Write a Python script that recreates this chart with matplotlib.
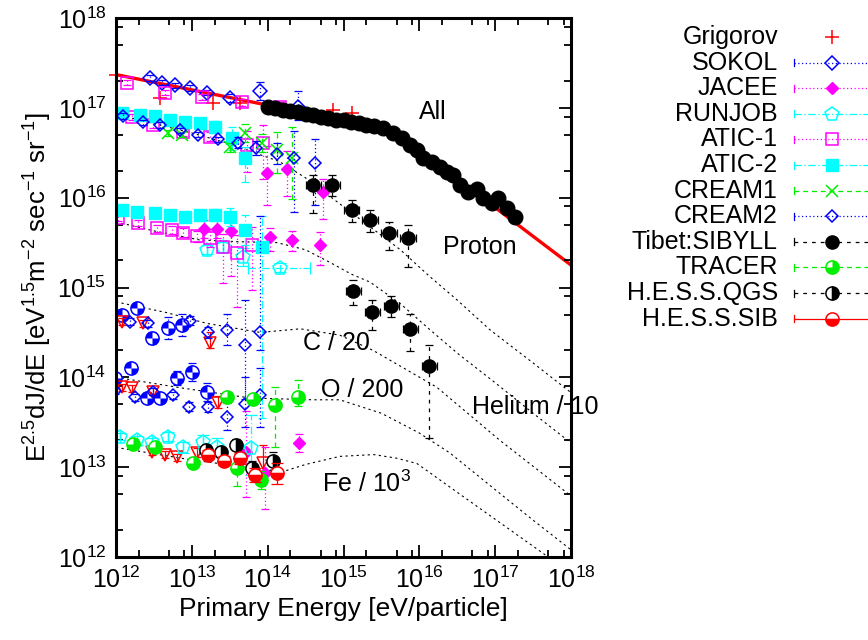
import numpy as np
import matplotlib
matplotlib.use("Agg")
import matplotlib.pyplot as plt
from matplotlib.path import Path
from matplotlib.ticker import LogLocator, NullFormatter

plt.rcParams["font.family"] = ["Liberation Sans", "DejaVu Sans"]
plt.rcParams["mathtext.fontset"] = "custom"
plt.rcParams["mathtext.rm"] = "Liberation Sans"
plt.rcParams["mathtext.it"] = "Liberation Sans:italic"
plt.rcParams["mathtext.bf"] = "Liberation Sans:bold"

# ---- data (log10 E [eV], log10 E^2.5 dJ/dE), errors in decades ----

# all-particle fit (red) and model curves (black dotted)
all_fit_le = [12.0, 13.0, 14.0, 14.5, 15.0, 15.5, 15.8, 16.0, 16.5, 17.0, 17.5, 18.0]
all_fit_lf = [17.37, 17.20, 17.03, 16.95, 16.86, 16.76, 16.64, 16.52, 16.20, 15.89, 15.57, 15.25]

proton_le = [12.0, 13.0, 13.5, 14.16, 14.5, 15.0, 15.5, 15.75, 16.14, 16.5, 16.93, 17.5, 18.0]
proton_lf = [16.93, 16.72, 16.60, 16.40, 16.22, 15.90, 15.58, 15.42, 15.12, 14.86, 14.53, 14.16, 13.83]
helium_le = [12.0, 12.5, 13.1, 13.6, 14.12, 14.5, 14.82, 15.1, 15.35, 15.75, 16.14, 16.5, 17.0, 17.5, 18.0]
helium_lf = [15.73, 15.63, 15.53, 15.51, 15.50, 15.42, 15.28, 15.15, 15.06, 14.82, 14.53, 14.27, 13.94, 13.60, 13.27]
carbon_le = [12.0, 12.67, 13.2, 13.9, 14.43, 14.95, 15.39, 16.23, 17.06, 18.0]
carbon_lf = [14.84, 14.72, 14.60, 14.50, 14.54, 14.47, 14.30, 13.89, 13.30, 12.68]
oxygen_le = [12.0, 12.88, 13.77, 14.6, 14.95, 15.5, 16.0, 16.4, 17.0, 17.5, 18.0]
oxygen_lf = [14.00, 13.88, 13.77, 13.75, 13.75, 13.60, 13.38, 13.16, 12.75, 12.41, 12.08]
iron_le = [12.0, 13.0, 14.0, 14.2, 14.5, 14.95, 15.4, 15.7, 15.97, 16.5, 17.0, 17.5, 18.0]
iron_lf = [13.22, 13.08, 12.97, 12.95, 13.03, 13.12, 13.14, 13.10, 13.04, 12.72, 12.42, 12.12, 11.82]

grig_le = [12.0, 12.58, 13.28, 13.64, 14.86, 15.11]
grig_lf = [17.37, 17.11, 17.05, 17.05, 16.98, 16.94]

sokol_le = [12.45, 12.61, 12.78, 12.98, 13.20, 13.50, 13.90, 14.40]
sokol_lf = [17.33, 17.28, 17.25, 17.22, 17.17, 17.11, 17.19, 17.01]
sokol_lo = [0.03, 0.03, 0.03, 0.03, 0.03, 0.04, 0.10, 0.15]
sokol_hi = [0.03, 0.03, 0.03, 0.03, 0.03, 0.04, 0.10, 0.18]

# proton, helium, iron groups
jacee_le = [13.99, 14.26, 14.73, 13.16, 13.33, 13.52, 14.03, 14.32, 14.69, 13.71, 13.96, 14.41]
jacee_lf = [16.27, 16.32, 16.06, 15.65, 15.65, 15.63, 15.56, 15.53, 15.47, 13.17, 12.93, 13.27]
jacee_lo = [0.35, 0.30, 0.30, 0.10, 0.10, 0.50, 0.15, 0.12, 0.22, 0.50, 0.40, 0.10]
jacee_hi = [0.30, 0.20, 0.15, 0.10, 0.10, 0.20, 0.10, 0.10, 0.15, 0.45, 0.30, 0.10]

# helium, iron groups
runjob_le = [13.20, 13.41, 13.67, 14.16, 12.05, 12.28, 12.47, 12.69, 12.88, 13.15, 13.33, 13.78]
runjob_lf = [15.42, 15.45, 15.34, 15.22, 13.34, 13.30, 13.28, 13.34, 13.22, 13.28, 13.22, 13.21]
runjob_lo = [0.05, 0.06, 0.10, 0.05, 0.04, 0.05, 0.05, 0.05, 0.06, 0.08, 0.10, 0.30]
runjob_hi = [0.05, 0.06, 0.10, 0.05, 0.04, 0.05, 0.05, 0.05, 0.06, 0.08, 0.10, 0.37]
runjob_xlo = [0, 0, 0, 0.42, 0, 0, 0, 0, 0, 0, 0, 0]
runjob_xhi = [0, 0, 0, 0.40, 0, 0, 0, 0, 0, 0, 0, 0]

# all-particle, proton, helium groups
atic1_le = [12.15, 12.65, 13.13, 13.66, 14.16,
            12.21, 12.49, 12.88, 13.24, 13.73, 13.94,
            12.03, 12.29, 12.54, 12.74, 12.88, 13.07, 13.24, 13.41, 13.60, 13.79]
atic1_lf = [17.28, 17.17, 17.12, 17.06, 17.01,
            16.90, 16.81, 16.73, 16.68, 16.59, 16.61,
            15.77, 15.72, 15.66, 15.64, 15.61, 15.57, 15.55, 15.45, 15.38, 15.47]
atic1_lo = [0.03, 0.03, 0.03, 0.04, 0.05,
            0.03, 0.03, 0.04, 0.05, 0.30, 0.40,
            0.03, 0.03, 0.04, 0.04, 0.05, 0.06, 0.10, 0.40, 0.60, 0.50]
atic1_hi = [0.03, 0.03, 0.03, 0.04, 0.05,
            0.03, 0.03, 0.04, 0.05, 0.15, 0.20,
            0.03, 0.03, 0.04, 0.04, 0.05, 0.06, 0.10, 0.15, 0.20, 0.20]

# proton, helium groups
atic2_le = [12.08, 12.32, 12.51, 12.71, 12.91, 13.11, 13.31, 13.53, 13.70,
            12.08, 12.28, 12.51, 12.71, 12.91, 13.11, 13.31, 13.50, 13.70, 13.93]
atic2_lf = [16.94, 16.92, 16.91, 16.86, 16.84, 16.83, 16.79, 16.66, 16.44,
            15.86, 15.84, 15.83, 15.81, 15.78, 15.81, 15.81, 15.78, 15.64, 15.45]
atic2_lo = [0.02, 0.02, 0.02, 0.03, 0.03, 0.04, 0.06, 0.13, 0.27,
            0.02, 0.02, 0.02, 0.03, 0.03, 0.04, 0.06, 0.10, 0.17, 1.90]
atic2_hi = [0.02, 0.02, 0.02, 0.03, 0.03, 0.04, 0.06, 0.13, 0.12,
            0.02, 0.02, 0.02, 0.03, 0.03, 0.04, 0.06, 0.10, 0.17, 0.35]

cream1_le = [12.69, 12.87, 13.50, 13.70, 13.93, 14.12, 14.32]
cream1_lf = [16.72, 16.70, 16.56, 16.72, 16.61, 16.53, 16.44]
cream1_lo = [0.03, 0.03, 0.05, 0.10, 0.10, 0.25, 0.45]
cream1_hi = [0.03, 0.03, 0.05, 0.10, 0.10, 0.20, 0.35]

# proton, carbon, oxygen groups
cream2_le = [12.09, 12.36, 12.58, 12.84, 13.08, 13.35, 13.61, 13.85, 14.12, 14.35, 14.62,
             12.18, 12.42, 12.98, 13.21, 13.46, 13.70, 13.90,
             11.99, 12.25, 12.49, 12.75, 12.96, 13.21, 13.46, 13.70, 13.90]
cream2_lf = [16.91, 16.84, 16.81, 16.75, 16.70, 16.65, 16.61, 16.55, 16.49, 16.44, 16.39,
             14.62, 14.60, 14.63, 14.50, 14.53, 14.36, 14.50,
             13.85, 13.78, 13.84, 13.80, 13.67, 13.67, 13.56, 13.70, 13.80]
cream2_lo = [0.03, 0.03, 0.03, 0.03, 0.03, 0.03, 0.06, 0.08, 0.12, 0.60, 0.47,
             0.04, 0.04, 0.05, 0.06, 0.17, 0.60, 0.20,
             0.04, 0.04, 0.04, 0.04, 0.05, 0.06, 0.15, 0.25, 0.35]
cream2_hi = [0.03, 0.03, 0.03, 0.03, 0.03, 0.03, 0.06, 0.08, 0.12, 0.30, 0.26,
             0.04, 0.04, 0.05, 0.06, 0.17, 0.50, 1.30,
             0.04, 0.04, 0.04, 0.04, 0.05, 0.06, 0.15, 0.30, 0.30]

tibet_all_le = [14.0, 14.1, 14.2, 14.3, 14.4, 14.5, 14.6, 14.7, 14.8, 14.9, 15.0, 15.1, 15.2,
                15.3, 15.4, 15.52, 15.65, 15.77, 15.88, 15.97, 16.05, 16.17, 16.27, 16.36,
                16.44, 16.54, 16.64, 16.76, 16.84, 16.96, 17.04, 17.16, 17.26]
tibet_all_lf = [17.01, 17.00, 16.98, 16.96, 16.95, 16.93, 16.92, 16.90, 16.89, 16.87, 16.86,
                16.84, 16.83, 16.81, 16.80, 16.78, 16.72, 16.66, 16.59, 16.53, 16.44, 16.40,
                16.34, 16.29, 16.25, 16.14, 16.06, 16.10, 16.00, 15.94, 16.00, 15.88, 15.78]
tibet_p_le = [14.60, 14.85, 15.11, 15.35, 15.60, 15.85]
tibet_p_lf = [16.14, 16.14, 15.86, 15.75, 15.61, 15.55]
tibet_p_lo = [0.31, 0.12, 0.13, 0.13, 0.19, 0.32]
tibet_p_hi = [0.11, 0.11, 0.11, 0.11, 0.12, 0.15]
tibet_he_le = [15.13, 15.38, 15.63, 15.88, 16.13]
tibet_he_lf = [14.96, 14.73, 14.79, 14.54, 14.13]
tibet_he_lo = [0.15, 0.20, 0.12, 0.25, 0.80]
tibet_he_hi = [0.12, 0.13, 0.12, 0.16, 0.23]

# oxygen, iron groups
tracer_le = [13.46, 13.81, 14.10, 14.40, 12.22, 12.51, 13.02, 13.60, 13.91]
tracer_lf = [13.78, 13.76, 13.69, 13.78, 13.26, 13.22, 13.05, 12.99, 12.86]
tracer_lo = [0.05, 0.05, 0.47, 0.10, 0.04, 0.04, 0.06, 0.20, 0.10]
tracer_hi = [0.05, 0.05, 0.20, 0.19, 0.04, 0.04, 0.06, 0.20, 0.10]

hess_qgs_le = [13.19, 13.38, 13.58, 13.79, 14.07]
hess_qgs_lf = [13.19, 13.17, 13.25, 12.99, 13.07]
hess_qgs_err = [0.05, 0.05, 0.06, 0.08, 0.10]
hess_sib_le = [13.21, 13.42, 13.64, 13.83, 14.12]
hess_sib_lf = [13.14, 13.07, 13.10, 12.91, 12.93]
hess_sib_err = [0.05, 0.05, 0.06, 0.08, 0.12]

# unlabelled series: red triangles (C, O, Fe) and blue quartered circles (C, O)
tri_le = [12.08, 12.36, 13.24, 12.08, 12.21, 12.49, 13.35, 12.47, 12.65, 12.80, 13.07, 13.94]
tri_lf = [14.62, 14.60, 14.38, 13.89, 13.88, 13.84, 13.71, 13.17, 13.14, 13.11, 13.16, 13.05]
tri_lo = [0.04, 0.04, 0.05, 0.04, 0.04, 0.04, 0.05, 0.04, 0.04, 0.04, 0.05, 0.15]
tri_hi = [0.04, 0.04, 0.12, 0.04, 0.04, 0.04, 0.08, 0.04, 0.04, 0.04, 0.05, 0.20]
quad_le = [12.08, 12.28, 12.47, 12.69, 12.87, 11.99, 12.20, 12.41, 12.58, 12.80, 13.00, 13.20]
quad_lf = [14.69, 14.77, 14.44, 14.55, 14.58, 13.99, 14.10, 13.77, 13.77, 13.99, 14.06, 13.84]
quad_err = [0.05, 0.05, 0.07, 0.12, 0.12, 0.04, 0.05, 0.06, 0.06, 0.08, 0.10, 0.10]

legend_labels = ["Grigorov", "SOKOL", "JACEE", "RUNJOB", "ATIC-1", "ATIC-2", "CREAM1",
                 "CREAM2", "Tibet:SIBYLL", "TRACER", "H.E.S.S.QGS", "H.E.S.S.SIB"]

# ---- styles ----
RED, BLUE, MAG, CYAN, GREEN, BLACK = "#ff0000", "#0000ff", "#ff00ff", "#00ffff", "#00ee00", "#000000"
DOT = (0, (1, 2))
DASH = (0, (4, 3))
DASHDOT = (0, (6, 2, 1, 2))
SPARSE = (0, (3, 4))

QUAD_TR_BL = Path.make_compound_path(Path.wedge(0, 90), Path.wedge(180, 270))
QUAD_TL = Path.wedge(90, 180)


def marks(ax, x, y, kind, color, ms, **kw):
    if kind == "plus":
        ax.plot(x, y, ls="none", marker="+", ms=ms, mew=1.1, color=color, **kw)
    elif kind == "x":
        ax.plot(x, y, ls="none", marker="x", ms=ms, mew=1.1, color=color, **kw)
    elif kind.startswith("open:"):
        ax.plot(x, y, ls="none", marker=kind[5:], ms=ms, mfc="none", mec=color, mew=1.1, **kw)
    elif kind.startswith("fill:"):
        ax.plot(x, y, ls="none", marker=kind[5:], ms=ms, mfc=color, mec=color, mew=1.0, **kw)
    elif kind in ("quad", "tracer"):
        hole = QUAD_TR_BL if kind == "quad" else QUAD_TL
        ax.plot(x, y, ls="none", marker="o", ms=ms, mfc=color, mec="none", **kw)
        ax.plot(x, y, ls="none", marker=hole, ms=ms, mfc="white", mec="none", **kw)
        ax.plot(x, y, ls="none", marker="o", ms=ms, mfc="none", mec=color, mew=1.1, **kw)
    elif kind == "qgs":
        ax.plot(x, y, ls="none", marker="o", ms=ms, fillstyle="right", mfc=color,
                mfcalt="white", mec=color, mew=1.1, **kw)
    elif kind == "sib":
        ax.plot(x, y, ls="none", marker="o", ms=ms, fillstyle="bottom", mfc=color,
                mfcalt="white", mec=color, mew=1.1, **kw)


def series(ax, le, lf, lo, hi, color, ls, kind, ms, xlo=None, xhi=None, cap=3):
    le = np.asarray(le)
    lf = np.asarray(lf)
    x = 10.0 ** le
    y = 10.0 ** lf
    yerr = [y - 10.0 ** (lf - np.asarray(lo)), 10.0 ** (lf + np.asarray(hi)) - y]
    xerr = None
    if xlo is not None:
        xerr = [x - 10.0 ** (le - np.asarray(xlo)), 10.0 ** (le + np.asarray(xhi)) - x]
    eb = ax.errorbar(x, y, yerr=yerr, xerr=xerr, fmt="none", ecolor=color,
                     elinewidth=0.9, capsize=cap, capthick=0.9)
    for lc in eb.lines[2]:
        lc.set_linestyle(ls)
    marks(ax, x, y, kind, color, ms)


W, H = 868, 640
fig = plt.figure(figsize=(W / 100, H / 100), dpi=100)
ax = fig.add_axes([116 / W, 1 - 557 / H, 455 / W, 539 / H])
ax.set_xscale("log")
ax.set_yscale("log")
ax.set_xlim(1e12, 1e18)
ax.set_ylim(1e12, 1e18)

# model curves
for le, lf in [(proton_le, proton_lf), (helium_le, helium_lf), (carbon_le, carbon_lf),
               (oxygen_le, oxygen_lf), (iron_le, iron_lf)]:
    ax.plot(10.0 ** np.array(le), 10.0 ** np.array(lf), color=BLACK, lw=0.8,
            ls=(0, (2, 3)), zorder=1)
ax.plot(10.0 ** np.array(all_fit_le), 10.0 ** np.array(all_fit_lf), color=RED, lw=2.4, zorder=1.5)

# unlabelled points
series(ax, quad_le, quad_lf, quad_err, quad_err, BLUE, DOT, "quad", 9.5)
series(ax, tri_le, tri_lf, tri_lo, tri_hi, RED, "-", "open:v", 8.5)

# labelled points
marks(ax, 10.0 ** np.array(grig_le), 10.0 ** np.array(grig_lf), "plus", RED, 10, clip_on=False)
series(ax, sokol_le, sokol_lf, sokol_lo, sokol_hi, BLUE, DOT, "open:D", 7)
series(ax, jacee_le, jacee_lf, jacee_lo, jacee_hi, MAG, DOT, "fill:D", 6)
series(ax, runjob_le, runjob_lf, runjob_lo, runjob_hi, CYAN, DASHDOT, "open:p", 10,
       xlo=runjob_xlo, xhi=runjob_xhi, cap=4)
series(ax, atic1_le, atic1_lf, atic1_lo, atic1_hi, MAG, DOT, "open:s", 8.5)
series(ax, atic2_le, atic2_lf, atic2_lo, atic2_hi, CYAN, DASHDOT, "fill:s", 8.5)
series(ax, cream1_le, cream1_lf, cream1_lo, cream1_hi, GREEN, DASH, "x", 8)
series(ax, cream2_le, cream2_lf, cream2_lo, cream2_hi, BLUE, DOT, "open:D", 6.3)
tib_e = [0.02] * len(tibet_all_le)
series(ax, tibet_all_le, tibet_all_lf, tib_e, tib_e, BLACK, SPARSE, "fill:o", 10.5)
series(ax, tibet_p_le, tibet_p_lf, tibet_p_lo, tibet_p_hi, BLACK, SPARSE, "fill:o", 9.5,
       xlo=[0.1] * 6, xhi=[0.1] * 6)
series(ax, tibet_he_le, tibet_he_lf, tibet_he_lo, tibet_he_hi, BLACK, SPARSE, "fill:o", 9.5,
       xlo=[0.1] * 5, xhi=[0.1] * 5)
series(ax, tracer_le, tracer_lf, tracer_lo, tracer_hi, GREEN, DASH, "tracer", 9.5)
series(ax, hess_qgs_le, hess_qgs_lf, hess_qgs_err, hess_qgs_err, BLACK, SPARSE, "qgs", 9.5)
series(ax, hess_sib_le, hess_sib_lf, hess_sib_err, hess_sib_err, RED, "-", "sib", 9.5, cap=4)

# curve labels
ax.text(10 ** 16.18, 10 ** 16.95, "All", fontsize=18, ha="center", va="center")
ax.text(10 ** 16.80, 10 ** 15.45, "Proton", fontsize=18, ha="center", va="center")
ax.text(10 ** 16.69, 10 ** 13.67, "Helium / 10", fontsize=18, ha="left", va="center", clip_on=False)
ax.text(10 ** 14.91, 10 ** 14.38, "C / 20", fontsize=18, ha="center", va="center")
ax.text(10 ** 15.24, 10 ** 13.86, "O / 200", fontsize=18, ha="center", va="center")
ax.text(10 ** 15.30, 10 ** 12.82, "Fe / 10$^3$", fontsize=18, ha="center", va="center")

# axes styling (gnuplot look)
for s in ax.spines.values():
    s.set_linewidth(2.2)
ax.xaxis.set_major_locator(LogLocator(base=10, numticks=10))
ax.yaxis.set_major_locator(LogLocator(base=10, numticks=10))
ax.xaxis.set_minor_locator(LogLocator(base=10, subs=(2, 5, 8), numticks=20))
ax.yaxis.set_minor_locator(LogLocator(base=10, subs=(2, 5, 8), numticks=20))
ax.xaxis.set_minor_formatter(NullFormatter())
ax.yaxis.set_minor_formatter(NullFormatter())
ax.tick_params(which="both", direction="in", top=True, right=True, width=1.3, labelsize=18)
ax.tick_params(which="major", length=9, pad=7)
ax.tick_params(which="minor", length=5)
ax.set_xlabel("Primary Energy [eV/particle]", fontsize=19, labelpad=3)
ax.set_ylabel("E$^{2.5}$dJ/dE [eV$^{1.5}$m$^{-2}$ sec$^{-1}$ sr$^{-1}$]", fontsize=18.5, labelpad=2)

# legend drawn by hand, samples run off the right edge like the original
lax = fig.add_axes([0, 0, 1, 1])
lax.set_xlim(0, W)
lax.set_ylim(H, 0)
lax.set_xticks([])
lax.set_yticks([])
lax.axis("off")
legend_style = [
    (RED, None, "plus", 10), (BLUE, DOT, "open:D", 7), (MAG, DOT, "fill:D", 6),
    (CYAN, DASHDOT, "open:p", 10), (MAG, DOT, "open:s", 8.5), (CYAN, DASHDOT, "fill:s", 8.5),
    (GREEN, DASH, "x", 8), (BLUE, DOT, "open:D", 6.3), (BLACK, SPARSE, "fill:o", 9.5),
    (GREEN, DASH, "tracer", 9.5), (BLACK, SPARSE, "qgs", 9.5), (RED, "-", "sib", 9.5),
]
for i, (label, (color, ls, kind, ms)) in enumerate(zip(legend_labels, legend_style)):
    yy = 37 + 25.6 * i
    fig.text(778 / W, 1 - yy / H, label, fontsize=18, ha="right", va="center")
    if ls is not None:
        lax.plot([794, 900], [yy, yy], color=color, ls=ls, lw=0.9)
        lax.plot([794, 794], [yy - 3.5, yy + 3.5], color=color, lw=0.9)
    marks(lax, [832], [yy], kind, color, ms)

fig.savefig("out.png", dpi=100)
